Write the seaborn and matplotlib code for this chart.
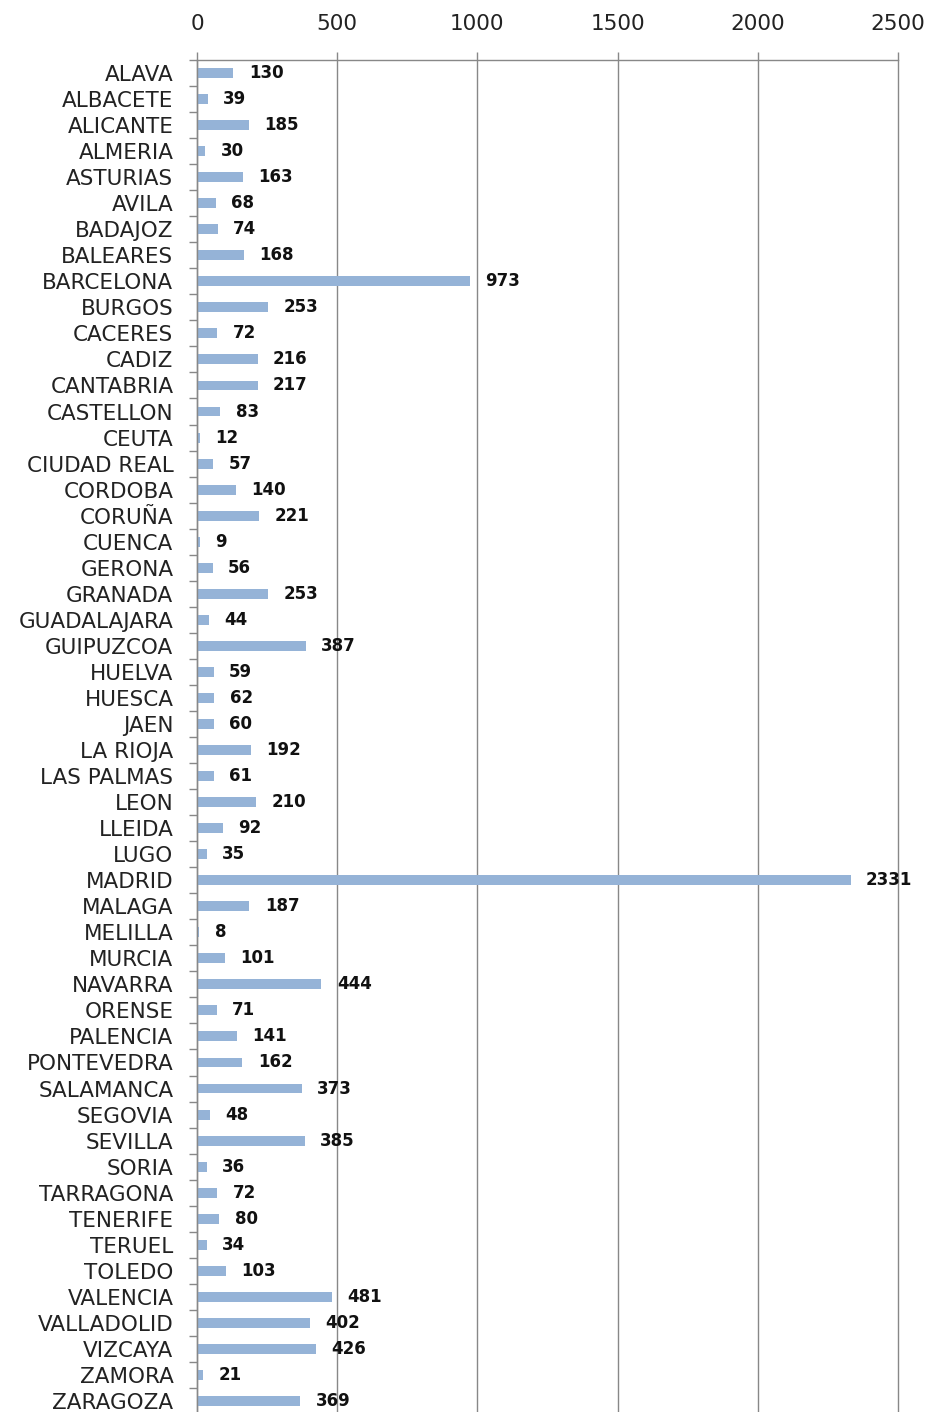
import numpy as np
import pandas as pd
import matplotlib
matplotlib.use('Agg')
import matplotlib.pyplot as plt
import seaborn as sns

provinces = ['ALAVA', 'ALBACETE', 'ALICANTE', 'ALMERIA', 'ASTURIAS', 'AVILA', 'BADAJOZ',
             'BALEARES', 'BARCELONA', 'BURGOS', 'CACERES', 'CADIZ', 'CANTABRIA', 'CASTELLON',
             'CEUTA', 'CIUDAD REAL', 'CORDOBA', 'CORUÑA', 'CUENCA', 'GERONA', 'GRANADA',
             'GUADALAJARA', 'GUIPUZCOA', 'HUELVA', 'HUESCA', 'JAEN', 'LA RIOJA', 'LAS PALMAS',
             'LEON', 'LLEIDA', 'LUGO', 'MADRID', 'MALAGA', 'MELILLA', 'MURCIA', 'NAVARRA',
             'ORENSE', 'PALENCIA', 'PONTEVEDRA', 'SALAMANCA', 'SEGOVIA', 'SEVILLA', 'SORIA',
             'TARRAGONA', 'TENERIFE', 'TERUEL', 'TOLEDO', 'VALENCIA', 'VALLADOLID', 'VIZCAYA',
             'ZAMORA', 'ZARAGOZA']
values = [130, 39, 185, 30, 163, 68, 74, 168, 973, 253, 72, 216, 217, 83, 12, 57, 140, 221,
          9, 56, 253, 44, 387, 59, 62, 60, 192, 61, 210, 92, 35, 2331, 187, 8, 101, 444, 71,
          141, 162, 373, 48, 385, 36, 72, 80, 34, 103, 481, 402, 426, 21, 369]
x_ticks = [0, 500, 1000, 1500, 2000, 2500]

df = pd.DataFrame({'province': provinces, 'value': values})

sns.set_style('white')
plt.rcParams['font.family'] = ['DejaVu Sans']

fig = plt.figure(figsize=(9.29, 14.12), dpi=100)
ax = fig.add_axes([197 / 929, -2 / 1412, 701 / 929, 1354 / 1412])

sns.barplot(data=df, y='province', x='value', orient='h', color='#95B3D7',
            saturation=1, width=0.38, linewidth=0, ax=ax)

ax.bar_label(ax.containers[0], labels=[str(v) for v in values], padding=11,
             fontsize=12, fontweight='bold', color='#111111')

ax.set_xlim(0, 2500)
ax.set_ylim(len(provinces) - 0.5, -0.5)
ax.set_xticks(x_ticks)
ax.xaxis.tick_top()
ax.tick_params(axis='x', top=True, length=6, color='#888888', labelsize=15.5,
               labelcolor='#222222', pad=13, width=1)
ax.tick_params(axis='y', which='major', left=True, length=0, labelsize=15.5,
               labelcolor='#222222', pad=17)
ax.set_yticks(np.arange(-0.5, len(provinces), 1), minor=True)
ax.tick_params(axis='y', which='minor', left=True, length=6, color='#888888', width=1)
ax.set_xlabel('')
ax.set_ylabel('')
ax.grid(axis='x', color='#888888', linewidth=1)
for gl in ax.get_xgridlines():
    gl.set_clip_on(False)
ax.set_axisbelow(True)

for side in ['right', 'bottom']:
    ax.spines[side].set_visible(False)
for side in ['left', 'top']:
    ax.spines[side].set_color('#888888')
    ax.spines[side].set_linewidth(1)

fig.savefig('out.png', dpi=100)
